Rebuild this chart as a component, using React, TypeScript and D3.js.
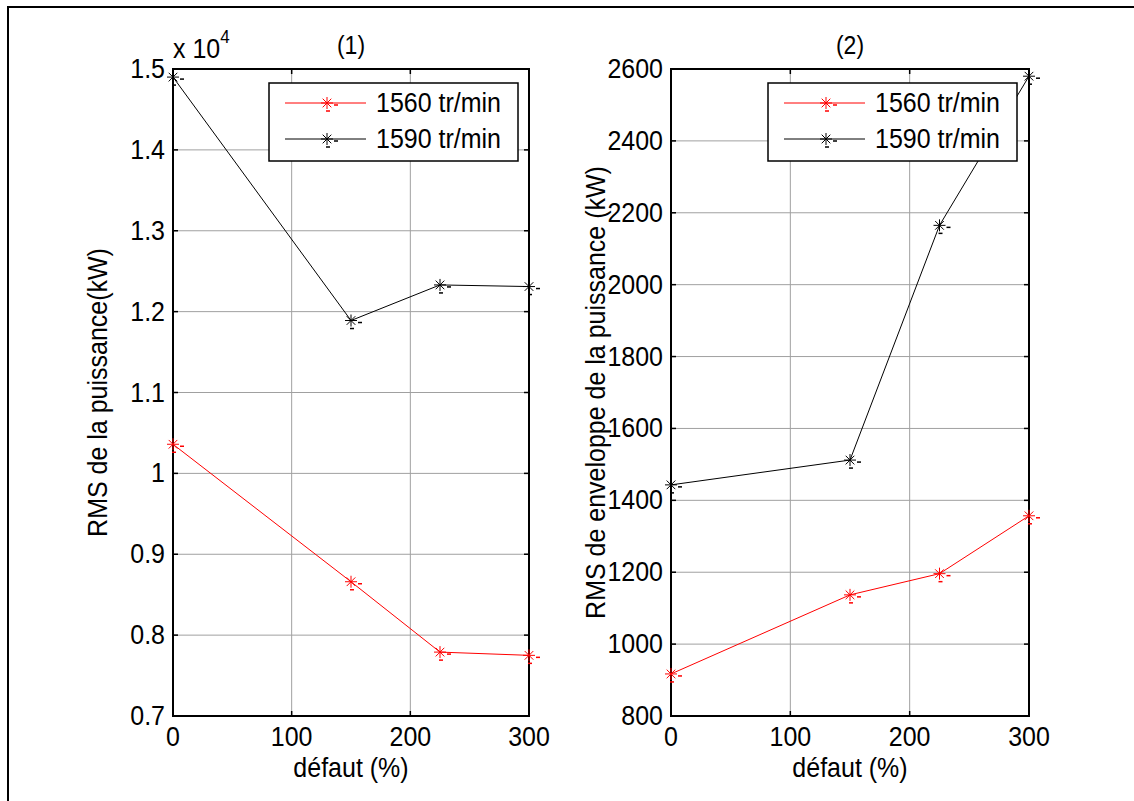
import React from "react";
import * as d3 from "d3";

const defaut = [0, 150, 225, 300];
const p1560 = [1.036, 0.866, 0.779, 0.775];
const p1590 = [1.49, 1.189, 1.233, 1.231];
const e1560 = [917, 1137, 1196, 1357];
const e1590 = [1443, 1512, 2165, 2580];
const xTicks = [0, 100, 200, 300];
const yTicks1 = [0.7, 0.8, 0.9, 1, 1.1, 1.2, 1.3, 1.4, 1.5];
const yTicks2 = [800, 1000, 1200, 1400, 1600, 1800, 2000, 2200, 2400, 2600];
const seriesNames = ["1560 tr/min", "1590 tr/min"];
const seriesColors = ["#ff0000", "#000000"];

const FONT = "'Liberation Sans', Arial, sans-serif";
const FS = 25;
const SY = 1.1;

function T({ x, y, anchor = "start", rot = 0, children, size }: {
  x: number; y: number; anchor?: string; rot?: number; children: React.ReactNode; size?: number;
}) {
  const tr = rot
    ? `translate(${x},${y}) rotate(${rot}) scale(1,${SY})`
    : `translate(${x},${y}) scale(1,${SY})`;
  return (
    <text transform={tr} textAnchor={anchor as any} fill="#000" fontSize={size}>
      {children}
    </text>
  );
}

function Star({ x, y, color }: { x: number; y: number; color: string }) {
  const r = 6;
  const d = r * 0.72;
  return (
    <g stroke={color} strokeWidth={1}>
      <line x1={x - r} y1={y} x2={x + r} y2={y} />
      <line x1={x} y1={y - r} x2={x} y2={y + r} />
      <line x1={x - d} y1={y - d} x2={x + d} y2={y + d} />
      <line x1={x - d} y1={y + d} x2={x + d} y2={y - d} />
      <line x1={x + 7} y1={y + 2} x2={x + 11} y2={y + 2} strokeWidth={1.5} />
      <line x1={x - 1} y1={y + 8} x2={x + 3} y2={y + 8} strokeWidth={1.5} />
    </g>
  );
}

function Panel({
  x0, x1, yDomain, yTicks, series, title, ylabel, fmt, exponent, legendX,
}: {
  x0: number; x1: number; yDomain: [number, number]; yTicks: number[];
  series: number[][]; title: string; ylabel: string; fmt: (v: number) => string;
  exponent: boolean; legendX: number;
}) {
  const top = 69, bottom = 716;
  const x = d3.scaleLinear().domain([0, 300]).range([x0, x1]);
  const y = d3.scaleLinear().domain(yDomain).range([bottom, top]);
  const line = d3.line<number>().x((_, i) => x(defaut[i])).y((v) => y(v));
  const tl = 5;
  const grid = "#a0a0a0";
  return (
    <g fontFamily={FONT} fontSize={FS}>
      {xTicks.slice(1, -1).map((t) => (
        <line key={"gx" + t} x1={x(t)} x2={x(t)} y1={top} y2={bottom} stroke={grid} strokeWidth={1} />
      ))}
      {yTicks.slice(1, -1).map((t) => (
        <line key={"gy" + t} x1={x0} x2={x1} y1={y(t)} y2={y(t)} stroke={grid} strokeWidth={1} />
      ))}
      {xTicks.map((t) => (
        <g key={"tx" + t} stroke="#000" strokeWidth={1.5}>
          <line x1={x(t)} x2={x(t)} y1={bottom} y2={bottom - tl} />
          <line x1={x(t)} x2={x(t)} y1={top} y2={top + tl} />
        </g>
      ))}
      {yTicks.map((t) => (
        <g key={"ty" + t} stroke="#000" strokeWidth={1.5}>
          <line x1={x0} x2={x0 + tl} y1={y(t)} y2={y(t)} />
          <line x1={x1} x2={x1 - tl} y1={y(t)} y2={y(t)} />
        </g>
      ))}
      <rect x={x0} y={top} width={x1 - x0} height={bottom - top} fill="none" stroke="#000" strokeWidth={2} />
      {xTicks.map((t) => (
        <T key={"lx" + t} x={x(t)} y={746} anchor="middle">{t}</T>
      ))}
      {yTicks.map((t) => (
        <T key={"ly" + t} x={x0 - 8} y={y(t) + 9} anchor="end">{fmt(t)}</T>
      ))}
      {series.map((s, si) => (
        <g key={"s" + si}>
          <path d={line(s) || ""} fill="none" stroke={seriesColors[si]} strokeWidth={1} />
          {s.map((v, i) => (
            <Star key={i} x={x(defaut[i])} y={y(v)} color={seriesColors[si]} />
          ))}
        </g>
      ))}
      <T x={(x0 + x1) / 2} y={54} anchor="middle" size={FS - 2}>{title}</T>
      <T x={(x0 + x1) / 2} y={777} anchor="middle">défaut (%)</T>
      <T x={x0 - 66} y={(top + bottom) / 2} rot={-90} anchor="middle">{ylabel}</T>
      {exponent && (
        <T x={x0} y={58}>
          x 10<tspan dy={-14} fontSize={17}>4</tspan>
        </T>
      )}
      <g>
        <rect x={legendX} y={83} width={249} height={78} fill="#fff" stroke="#000" strokeWidth={1.5} />
        {seriesNames.map((n, i) => {
          const ly = 103 + i * 36;
          return (
            <g key={n}>
              <line x1={legendX + 16} x2={legendX + 97} y1={ly} y2={ly} stroke={seriesColors[i]} strokeWidth={1} />
              <Star x={legendX + 58} y={ly} color={seriesColors[i]} />
              <T x={legendX + 107} y={ly + 9}>{n}</T>
            </g>
          );
        })}
      </g>
    </g>
  );
}

export default function App() {
  return (
    <svg width={1134} height={801} style={{ position: "absolute", left: 0, top: 0, background: "#fff" }}>
      <rect x={0} y={0} width={1134} height={801} fill="#fff" />
      <rect x={8} y={7} width={1200} height={900} fill="none" stroke="#000" strokeWidth={2} />
      <Panel
        x0={173} x1={529} yDomain={[0.7, 1.5]} yTicks={yTicks1}
        series={[p1560, p1590]} title="(1)" ylabel="RMS de la puissance(kW)"
        fmt={(v) => String(+v.toFixed(1))} exponent={true} legendX={269}
      />
      <Panel
        x0={671} x1={1029} yDomain={[800, 2600]} yTicks={yTicks2}
        series={[e1560, e1590]} title="(2)" ylabel="RMS de enveloppe de la puissance (kW)"
        fmt={(v) => String(v)} exponent={false} legendX={768}
      />
    </svg>
  );
}
